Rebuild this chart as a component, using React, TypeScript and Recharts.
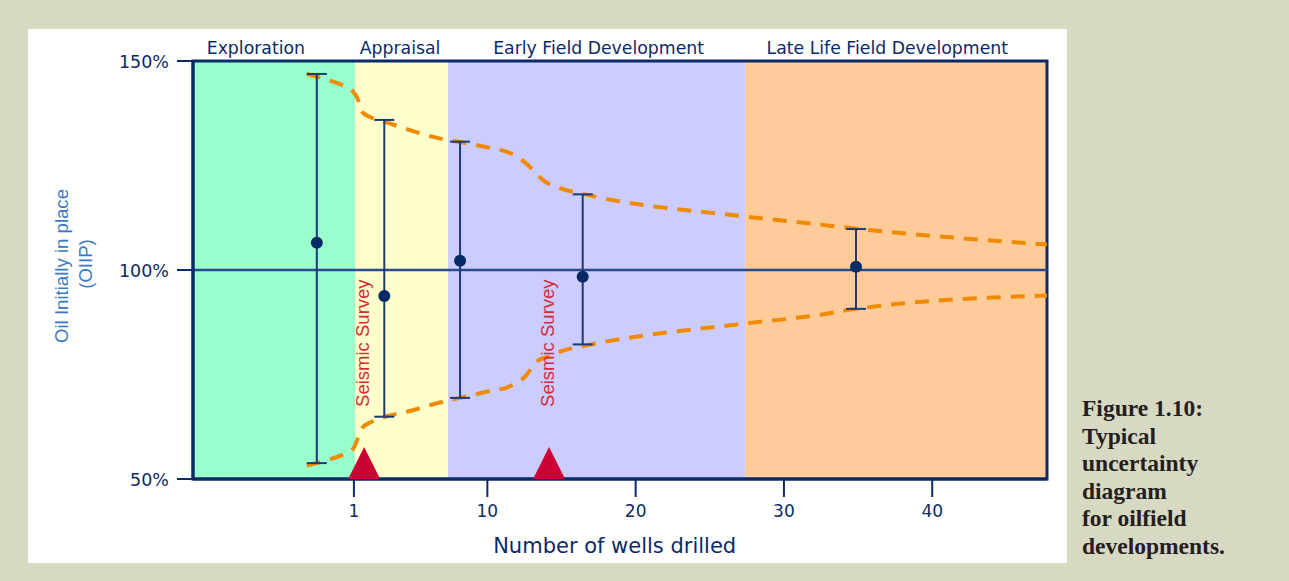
import React from 'react';
import {
  ComposedChart,
  XAxis,
  YAxis,
  Line,
  Scatter,
  ErrorBar,
  ReferenceArea,
  ReferenceLine,
} from 'recharts';

// ---------- data ----------
const phaseNames = ['Exploration', 'Appraisal', 'Early Field Development', 'Late Life Field Development'];
const phaseStart = [-9.85, 1.08, 7.35, 27.38];
const phaseEnd = [1.08, 7.35, 27.38, 47.74];
const phaseColors = ['#99ffcc', '#ffffcc', '#ccccff', '#ffcc99'];
const phaseLabelX = [-5.61, 4.11, 17.5, 36.97];

const xTicks = [1, 10, 20, 30, 40];
const yTicks = [50, 100, 150];

const estWells = [-1.5, 3.05, 8.16, 16.43, 34.86];
const estMid = [106.5, 93.8, 102.2, 98.4, 100.8];
const estLow = [53.8, 64.9, 69.4, 82.2, 90.7];
const estHigh = [146.9, 135.9, 130.7, 118.1, 109.8];

const upperWells = [-2.18, -0.61, 0.18, 0.94, 1.28, 1.53, 2.09, 2.97, 3.89, 7.01, 8.16, 10.18, 11.65, 12.41, 13.08, 13.76, 14.9, 16.45, 27.38, 32.1, 34.86, 47.74];
const upperOiip = [146.9, 145.3, 144.3, 142.7, 140.7, 137.9, 136.6, 135.6, 134.5, 131.3, 130.6, 129.2, 127.8, 126.1, 123.9, 121.5, 119.6, 118.2, 112.8, 111.0, 109.9, 106.1];

const lowerWells = [-2.18, -0.83, 0.18, 0.96, 1.26, 1.53, 2.2, 3.1, 4.57, 7.48, 8.16, 9.96, 11.53, 12.54, 13.33, 14.23, 15.1, 16.47, 27.38, 32.1, 34.86, 47.74];
const lowerOiip = [53.2, 54.5, 55.7, 57.3, 59.7, 62.1, 63.7, 64.9, 66.1, 68.9, 69.4, 70.9, 72.2, 74.5, 78.1, 79.4, 80.7, 81.8, 87.2, 89.1, 90.7, 93.9];

const surveyWells = [1.69, 14.16];
const surveyLabelOiip = 82.5;
const surveyLabel = 'Seismic Survey';

const captionLines = ['Figure 1.10:', 'Typical', 'uncertainty', 'diagram', 'for oilfield', 'developments.'];

// ---------- derived ----------
const estData = estWells.map((x, i) => ({
  x,
  y: estMid[i],
  err: [estMid[i] - estLow[i], estHigh[i] - estMid[i]],
}));
const upperData = upperWells.map((x, i) => ({ x, y: upperOiip[i] }));
const lowerData = lowerWells.map((x, i) => ({ x, y: lowerOiip[i] }));
const triangleData = surveyWells.map((x) => ({ x, y: 50 }));
const surveyTextData = surveyWells.map((x) => ({ x, y: surveyLabelOiip, text: surveyLabel }));
const phaseLabelData = phaseLabelX.map((x, i) => ({ x, y: 150, text: phaseNames[i] }));

const NAVY = '#0b2a66';
const SANS = '"DejaVu Sans", Verdana, sans-serif';
const ARIAL = '"Liberation Sans", Arial, sans-serif';

const YTick = (p: any) => (
  <text x={p.x} y={p.y} dy={7} textAnchor="end" fill={NAVY} fontSize={17.5} fontFamily={SANS}>
    {p.payload.value}%
  </text>
);

const XTick = (p: any) => (
  <text x={p.x} y={p.y} dy={18} textAnchor="middle" fill={NAVY} fontSize={17} fontFamily={SANS}>
    {p.payload.value}
  </text>
);

const Dot = (p: any) => <circle cx={p.cx} cy={p.cy} r={6} fill="#062a66" />;

const Triangle = (p: any) => (
  <polygon
    points={`${p.cx - 16},${p.cy} ${p.cx},${p.cy - 32} ${p.cx + 16},${p.cy}`}
    fill="#cc0033"
  />
);

const SurveyText = (p: any) => (
  <text
    x={p.cx}
    y={p.cy}
    dy={5}
    transform={`rotate(-90 ${p.cx} ${p.cy})`}
    textAnchor="middle"
    fill="#d42a3a"
    fontSize={18.5}
    fontFamily={ARIAL}
  >
    {p.payload.text}
  </text>
);

const PhaseText = (p: any) => (
  <text x={p.cx} y={p.cy} dy={-7} textAnchor="middle" fill={NAVY} fontSize={17.3} fontFamily={SANS}>
    {p.payload.text}
  </text>
);

export default function App() {
  return (
    <div style={{ position: 'absolute', left: 0, top: 0, width: 1289, height: 581, background: '#d8d9c2', overflow: 'hidden' }}>
      <div style={{ position: 'absolute', left: 28, top: 29, width: 1039, height: 534, background: '#ffffff' }} />
      <div style={{ position: 'absolute', left: 0, top: 0 }}>
        <ComposedChart width={1289} height={581} margin={{ top: 61, right: 242, bottom: 0, left: 0 }}>
          <XAxis
            dataKey="x"
            type="number"
            domain={[-9.85, 47.74]}
            ticks={xTicks}
            interval={0}
            height={102}
            tickSize={18}
            tickMargin={2}
            tick={XTick}
            axisLine={{ stroke: NAVY, strokeWidth: 3 }}
            tickLine={{ stroke: NAVY, strokeWidth: 2 }}
          />
          <YAxis
            type="number"
            domain={[50, 150]}
            ticks={yTicks}
            interval={0}
            width={193}
            tickSize={16}
            tickMargin={8}
            tick={YTick}
            axisLine={{ stroke: NAVY, strokeWidth: 3 }}
            tickLine={{ stroke: NAVY, strokeWidth: 2 }}
          />
          {phaseNames.map((n, i) => (
            <ReferenceArea
              key={n}
              x1={phaseStart[i]}
              x2={phaseEnd[i]}
              y1={50}
              y2={150}
              fill={phaseColors[i]}
              fillOpacity={1}
              stroke="none"
            />
          ))}
          <ReferenceLine y={100} stroke="#2b4a8c" strokeWidth={2.5} />
          <Line
            data={upperData}
            dataKey="y"
            type="monotone"
            stroke="#f08a00"
            strokeWidth={4}
            strokeDasharray="14 10"
            dot={false}
            activeDot={false}
            isAnimationActive={false}
          />
          <Line
            data={lowerData}
            dataKey="y"
            type="monotone"
            stroke="#f08a00"
            strokeWidth={4}
            strokeDasharray="14 10"
            dot={false}
            activeDot={false}
            isAnimationActive={false}
          />
          <Scatter data={triangleData} dataKey="y" shape={Triangle} isAnimationActive={false} />
          <Scatter data={surveyTextData} dataKey="y" shape={SurveyText} isAnimationActive={false} />
          <Scatter data={estData} dataKey="y" shape={Dot} isAnimationActive={false}>
            <ErrorBar dataKey="err" direction="y" width={10} stroke="#1c3a78" strokeWidth={2} isAnimationActive={false} />
          </Scatter>
          <Scatter data={phaseLabelData} dataKey="y" shape={PhaseText} isAnimationActive={false} />
          <ReferenceArea x1={-9.85} x2={47.74} y1={50} y2={150} fill="none" fillOpacity={0} stroke={NAVY} strokeWidth={3} />
        </ComposedChart>
      </div>
      <svg width={1289} height={581} style={{ position: 'absolute', left: 0, top: 0, pointerEvents: 'none' }}>
        <g transform="rotate(-90 68 266)">
          <text x={68} y={266} textAnchor="middle" fill="#3b78c2" fontSize={18.6} fontFamily={ARIAL}>
            Oil Initially in place
          </text>
        </g>
        <g transform="rotate(-90 91.5 264)">
          <text x={91.5} y={264} textAnchor="middle" fill="#3b78c2" fontSize={18.6} fontFamily={ARIAL}>
            (OIIP)
          </text>
        </g>
        <text x={614.7} y={552.7} textAnchor="middle" fill={NAVY} fontSize={21} fontFamily={SANS}>
          Number of wells drilled
        </text>
        {captionLines.map((l, i) => (
          <text
            key={l}
            x={1082}
            y={416 + i * 27.5}
            fill="#231f20"
            fontSize={23.5}
            fontWeight="bold"
            fontFamily='"Liberation Serif", "Times New Roman", serif'
          >
            {l}
          </text>
        ))}
      </svg>
    </div>
  );
}
